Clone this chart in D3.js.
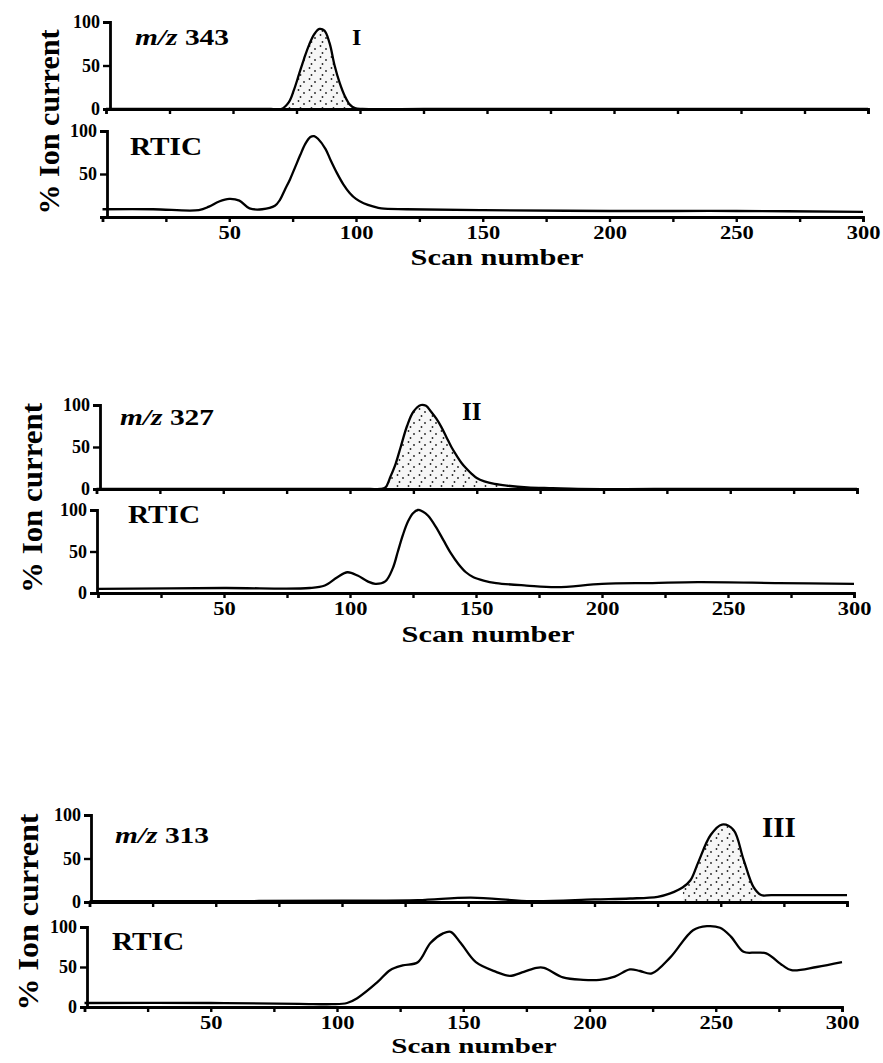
<!DOCTYPE html>
<html>
<head>
<meta charset="utf-8">
<script src="https://cdn.jsdelivr.net/npm/d3@7"></script>
<style>
body{margin:0;background:#fff;overflow:hidden;}
svg{display:block;}
text{font-family:"Liberation Serif","Times New Roman",serif;font-weight:bold;fill:#000;}
</style>
</head>
<body>
<svg id="chart"></svg>
<script>
// axis ticks
const xTicks=[25,50,75,100,125,150,175,200,225,250,275,300];
const xTickLabels=[50,100,150,200,250,300];
const yTicks=[0,50,100];

// panel I : m/z 343 and RTIC
const scan343=[0,25,50,65,69,72,74,76,78,80,82,84,86,88,90,92,94,96,98,101,125,150,200,250,300];
const ion343 =[0,0,0,0,0,8,22,40,58,74,86,92,90,76,50,30,15,5,1,0,0,0,0,0,0];
const scanTic1=[0,20,38,42,46,50,54,58,63,68,70,72,74,76,78,80,82,83.5,85,88,90,92.5,95,97.5,100,103,107,110,120,150,200,250,300];
const tic1    =[9,9,8,12,18,21,19,10,9,13,20,32,44,58,72,85,93,94,91,79,66,51,38,28,21,16,12,10,9,8,7,7,6];

// panel II : m/z 327 and RTIC
const scan327=[0,25,50,75,100,108,112,114,116,118,120,122.5,125,128,130,132,134,136,138,140,142,144,146,148,150,153,157,162,170,180,190,220,260,300];
const ion327 =[0,0,0,0,0,0,0,2,15,30,50,75,92,100,99,92,84,74,62,50,40,31,24,18,13,9,6,4,2,1,0,0,0,0];
const scanTic2=[0,50,84,90,95,99,103,107,110,114,117,119,121,123,125,127,129,131,134,137,140,143,146,149,153,158,170,182,200,220,238,270,300];
const tic2    =[5,6,6,9,19,25,21,14,11,14,30,50,70,86,96,100,98,93,80,64,48,35,25,19,15,12,9,7,11,12,13,12,11];

// panel III : m/z 313 and RTIC
const scan313=[0,50,100,130,151,175,200,214,225,230,235,238,241,246,250.5,255,259,263,266,270,300];
const ion313 =[1,1,1.5,2,5,1,3,4,6,10,17,25,45,77,89,83,49,17,8,8,8];
const scanTic3=[0,50,85,98,104,108,116,121,126,132,137,142,145,149,155,163,168.5,174,179,182,189.5,197.5,204,210,216,220,224.7,232,241,246.5,251.7,256,261,266,270,276.5,280,290,300];
const tic3    =[5,5,4,3.5,5,11,31,46,52,56,80,92,94,80,56,44,39,44,49,49,37,34,34,38,47,45,42,62,96,101,99,88,69,68,67,52,46,50,56];

const panels=[
  {mz:"343",roman:"I",pScan:scan343,pVal:ion343,fill:[65,101],tScan:scanTic1,tVal:tic1,ticYLabels:[50,100],
   top:{x:[106,868],y:[109,22],ax:110},bot:{x:[102.5,863],y:[217,131],ax:107},
   mzPos:[135,45],romanPos:[352,45,24],rticPos:[130,155],scanPos:[497,265,23],yLab:[59,122,185]},
  {mz:"327",roman:"II",pScan:scan327,pVal:ion327,fill:[108,190],tScan:scanTic2,tVal:tic2,ticYLabels:[0,50,100],
   top:{x:[96.5,857],y:[489,405],ax:100},bot:{x:[98,854],y:[593,510],ax:97},
   mzPos:[120,425],romanPos:[462,420,25],rticPos:[128,523],scanPos:[488,642,23],yLab:[42,498,190]},
  {mz:"313",roman:"III",pScan:scan313,pVal:ion313,fill:[235,268],tScan:scanTic3,tVal:tic3,ticYLabels:[0,50,100],
   top:{x:[89.5,847],y:[902,815],ax:91},bot:{x:[84.5,842],y:[1007,927],ax:87},
   mzPos:[115,843],romanPos:[762,837,29],rticPos:[112,950],scanPos:[474,1053,22],yLab:[38,912,197]}
];

const width=883, height=1063;
const svg=d3.select("#chart").attr("width",width).attr("height",height);

// stipple fill for the selected ion peaks
const pat=svg.append("defs").append("pattern")
  .attr("id","stipple").attr("patternUnits","userSpaceOnUse")
  .attr("width",11).attr("height",11);
pat.append("rect").attr("width",11).attr("height",11).attr("fill","#f6f6f6");
[[1.5,2],[7,5],[3.5,9]].forEach(function(p){
  pat.append("circle").attr("cx",p[0]).attr("cy",p[1]).attr("r",0.9).attr("fill","#222");
});

// widen text a bit, the printed font is broader than Liberation Serif
function stretch(sel,k){
  sel.each(function(){
    const w=this.getComputedTextLength();
    d3.select(this).attr("textLength",w*k).attr("lengthAdjust","spacingAndGlyphs");
  });
}

function styleAxis(g){
  g.selectAll("path").attr("stroke","#000").attr("stroke-width",2.8);
  g.selectAll("line").attr("stroke","#000").attr("stroke-width",2.4);
}

const curve=d3.curveCatmullRom.alpha(0.5);

function drawSub(box,scans,vals,yLabels,showX,fillRange){
  const x=d3.scaleLinear().domain([0,300]).range(box.x);
  const y=d3.scaleLinear().domain([0,100]).range(box.y);
  const pts=scans.map(function(s,i){return {s:s,v:vals[i]};});

  if(fillRange){
    const area=d3.area().curve(curve)
      .x(function(d){return x(d.s);}).y0(y(0)).y1(function(d){return y(d.v);});
    svg.append("path")
      .datum(pts.filter(function(d){return d.s>=fillRange[0]&&d.s<=fillRange[1];}))
      .attr("d",area).attr("fill","url(#stipple)");
  }

  // x axis
  const xa=svg.append("g").attr("transform","translate(0,"+box.y[0]+")")
    .call(d3.axisBottom(x).tickValues(xTicks).tickSizeOuter(0).tickSize(5).tickPadding(4)
      .tickFormat(function(d){return showX&&xTickLabels.indexOf(d)>=0?d:"";}));
  styleAxis(xa);
  xa.selectAll("text").attr("font-size",18).attr("fill","#000").attr("font-family",null).call(stretch,1.25);

  // y axis
  const ya=svg.append("g").attr("transform","translate("+box.ax+",0)")
    .call(d3.axisLeft(y).tickValues(yTicks).tickSizeOuter(0).tickSize(7).tickPadding(3)
      .tickFormat(function(d){return yLabels.indexOf(d)>=0?d:"";}));
  styleAxis(ya);
  ya.selectAll("text").attr("font-size",18).attr("fill","#000").attr("font-family",null);

  const line=d3.line().curve(curve)
    .x(function(d){return x(d.s);}).y(function(d){return y(d.v);});
  svg.append("path").datum(pts).attr("d",line)
    .attr("fill","none").attr("stroke","#000").attr("stroke-width",2.3);
}

panels.forEach(function(p){
  drawSub(p.top,p.pScan,p.pVal,yTicks,false,p.fill);
  drawSub(p.bot,p.tScan,p.tVal,p.ticYLabels,true,null);

  const mz=svg.append("text").attr("x",p.mzPos[0]).attr("y",p.mzPos[1]).attr("font-size",23);
  mz.append("tspan").attr("font-style","italic").text("m/z");
  mz.append("tspan").text(" "+p.mz);
  stretch(mz,1.28);

  svg.append("text").attr("x",p.romanPos[0]).attr("y",p.romanPos[1])
    .attr("font-size",p.romanPos[2]).text(p.roman);

  svg.append("text").attr("x",p.rticPos[0]).attr("y",p.rticPos[1])
    .attr("font-size",25).text("RTIC").call(stretch,1.17);

  svg.append("text").attr("x",p.scanPos[0]).attr("y",p.scanPos[1])
    .attr("text-anchor","middle").attr("font-size",p.scanPos[2]).text("Scan number").call(stretch,1.32);

  svg.append("text").attr("transform","translate("+p.yLab[0]+","+p.yLab[1]+") rotate(-90)")
    .attr("text-anchor","middle").attr("font-size",30)
    .attr("textLength",p.yLab[2]).attr("lengthAdjust","spacingAndGlyphs")
    .text("% Ion current");
});
</script>
</body>
</html>
